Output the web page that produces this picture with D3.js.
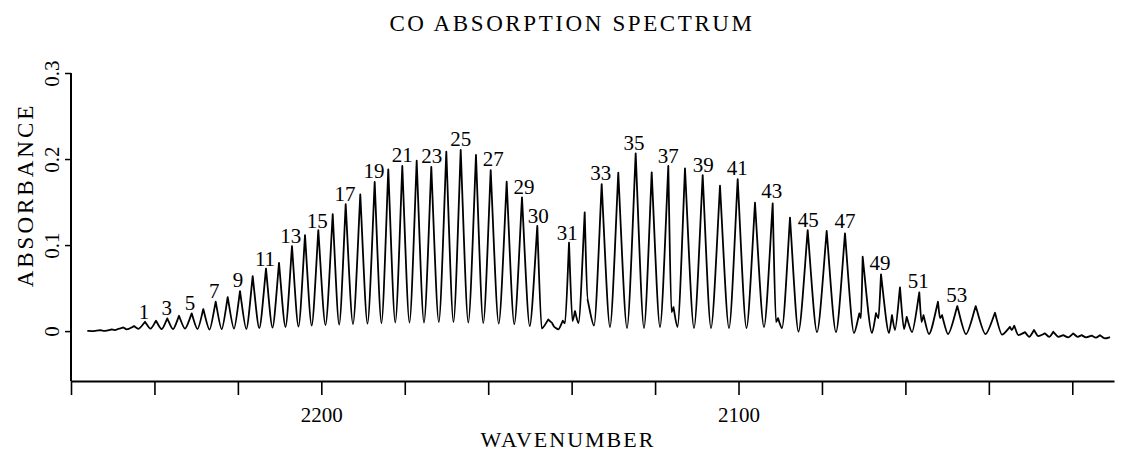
<!DOCTYPE html>
<html>
<head>
<meta charset="utf-8">
<script src="https://cdn.jsdelivr.net/npm/d3@7"></script>
<style>
  html, body { margin: 0; padding: 0; background: #fff; }
  svg { display: block; }
  text { font-family: "Liberation Serif", "Times New Roman", serif; fill: #000; }
</style>
</head>
<body>
<svg id="chart" width="1126" height="457"></svg>
<script>
// ---------------- data (wavenumber cm^-1, absorbance) ----------------
const chartTitle = "CO ABSORPTION SPECTRUM";
const xTitle = "WAVENUMBER";
const yTitle = "ABSORBANCE";

const xTicks = [2260, 2240, 2220, 2200, 2180, 2160, 2140, 2120, 2100, 2080, 2060, 2040, 2020];
const xTickLabels = { 2200: "2200", 2100: "2100" };
const yTicks = [0, 0.1, 0.2, 0.3];
const yTickLabels = ["0", "0.1", "0.2", "0.3"];

const baselineHigh = [
  [2256.09, 0.0003], [2254.65, 0.0000], [2253.05, 0.0012], [2251.85, 0.0003],
  [2250.24, 0.0020], [2249.45, 0.0012], [2248.66, 0.0027], [2247.46, 0.0043],
  [2246.65, 0.0020], [2244.90, 0.0058], [2243.82, 0.0027]
];

const rBranch = [
  [2242.26, 0.0108], [2240.94, 0.0029], [2239.63, 0.0120], [2238.26, 0.0023],
  [2236.92, 0.0148], [2235.55, 0.0023], [2234.11, 0.0178], [2232.68, 0.0029],
  [2231.07, 0.0206], [2229.68, 0.0023], [2228.29, 0.0256], [2226.80, 0.0017],
  [2225.32, 0.0343], [2223.88, 0.0023], [2222.44, 0.0395], [2220.93, 0.0029],
  [2219.49, 0.0465], [2217.98, 0.0023], [2216.45, 0.0640], [2214.87, 0.0035],
  [2213.26, 0.0727], [2211.70, 0.0041], [2210.14, 0.0794], [2208.59, 0.0047],
  [2207.03, 0.0988], [2205.47, 0.0052], [2203.91, 0.1116], [2202.31, 0.0064],
  [2200.72, 0.1174], [2199.00, 0.0070], [2197.27, 0.1360], [2195.72, 0.0076],
  [2194.16, 0.1477], [2192.41, 0.0081], [2190.66, 0.1590], [2188.93, 0.0087],
  [2187.21, 0.1733], [2185.58, 0.0093], [2183.95, 0.1880], [2182.27, 0.0099],
  [2180.59, 0.1919], [2178.87, 0.0099], [2177.14, 0.1980], [2175.39, 0.0099],
  [2173.64, 0.1910], [2171.84, 0.0105], [2170.04, 0.2085], [2168.32, 0.0105],
  [2166.59, 0.2105], [2164.77, 0.0099], [2162.93, 0.2047], [2161.18, 0.0093],
  [2159.40, 0.1872], [2157.48, 0.0087], [2155.57, 0.1736], [2153.75, 0.0081],
  [2151.90, 0.1555], [2150.05, 0.0058], [2148.23, 0.1224]
];

const bandCentre = [
  [2147.18, 0.0031], [2145.60, 0.0136], [2144.78, 0.0101], [2143.99, 0.0043],
  [2143.20, 0.0020], [2142.14, 0.0120], [2141.59, 0.0090]
];

const pBranch = [
  [2140.63, 0.1027], [2139.80, 0.0116], [2139.20, 0.0233], [2138.36, 0.0093],
  [2136.87, 0.1380], [2136.20, 0.0372], [2134.64, 0.0064], [2132.80, 0.1709],
  [2130.81, 0.0047], [2128.82, 0.1841], [2126.73, 0.0035], [2124.65, 0.2066],
  [2122.66, 0.0035], [2120.81, 0.1845], [2118.82, 0.0047], [2116.83, 0.1919],
  [2116.07, 0.0221], [2115.59, 0.0279], [2114.63, 0.0047], [2112.83, 0.1892],
  [2110.67, 0.0035], [2108.59, 0.1814], [2106.60, 0.0035], [2104.44, 0.1690],
  [2102.28, 0.0035], [2100.20, 0.1767], [2098.09, 0.0035], [2096.05, 0.1492],
  [2093.89, 0.0047], [2091.81, 0.1485], [2091.02, 0.0105], [2090.54, 0.0151],
  [2089.58, 0.0035], [2087.66, 0.1320], [2085.63, -0.0006], [2083.42, 0.1174],
  [2081.19, -0.0012], [2078.87, 0.1166], [2076.64, -0.0012], [2074.48, 0.1136],
  [2072.32, -0.0023], [2071.05, 0.0206], [2070.65, 0.0151], [2070.24, 0.0864],
  [2068.01, -0.0023], [2067.05, 0.0209], [2066.45, 0.0151], [2065.85, 0.0659],
  [2063.93, -0.0023], [2063.22, 0.0186], [2062.50, 0.0012], [2061.30, 0.0508],
  [2060.34, 0.0023], [2059.69, 0.0166], [2058.42, -0.0012], [2056.67, 0.0450],
  [2056.14, 0.0105], [2055.66, 0.0186], [2054.35, -0.0035], [2052.19, 0.0341],
  [2051.71, 0.0151], [2051.23, 0.0186], [2049.79, -0.0035], [2047.56, 0.0291],
  [2045.48, -0.0035], [2043.15, 0.0291], [2040.80, -0.0035], [2038.53, 0.0213],
  [2036.85, -0.0041]
];

const baselineLow = [
  [2034.93, 0.0050], [2034.52, 0.0012], [2033.90, 0.0062], [2032.94, -0.0047],
  [2031.34, -0.0012], [2030.31, -0.0066], [2029.18, 0.0012], [2028.15, -0.0058],
  [2026.54, -0.0027], [2025.51, -0.0066], [2024.55, -0.0008], [2023.35, -0.0066],
  [2022.16, -0.0047], [2020.96, -0.0073], [2019.76, -0.0027], [2018.70, -0.0066],
  [2017.75, -0.0047], [2016.71, -0.0073], [2015.35, -0.0052], [2014.32, -0.0076],
  [2013.36, -0.0047], [2012.16, -0.0085], [2010.96, -0.0070]
];

const peakLabels = ["1","3","5","7","9","11","13","15","17","19","21","23","25","27","29","30",
                    "31","33","35","37","39","41","43","45","47","49","51","53"];
const labelWn  = [2242.50, 2237.06, 2231.48, 2225.65, 2219.97, 2213.50, 2207.34, 2200.96,
                  2194.33, 2187.37, 2180.59, 2173.54, 2166.59, 2158.78, 2151.42, 2147.99,
                  2141.04, 2133.04, 2125.06, 2116.83, 2108.44, 2100.29, 2092.05, 2083.28,
                  2074.48, 2066.09, 2056.91, 2047.71];
const labelAbs = [0.0140, 0.0186, 0.0244, 0.0390, 0.0512, 0.0762, 0.1020, 0.1194,
                  0.1515, 0.1776, 0.1969, 0.1950, 0.2151, 0.1919, 0.1593, 0.1252,
                  0.1058, 0.1756, 0.2105, 0.1957, 0.1852, 0.1814, 0.1543, 0.1213,
                  0.1194, 0.0709, 0.0497, 0.0341];

// ---------------- layout ----------------
const svg = d3.select("#chart");
const x = d3.scaleLinear().domain([2260, 2010]).range([71, 1114]);
const y = d3.scaleLinear().domain([-0.058, 0.3]).range([381, 73]);

svg.append("rect").attr("width", 1126).attr("height", 457).attr("fill", "#fff");

// custom curve: rounded troughs, sharp spectral peaks
function CuspCurve(context) { this._context = context; }
CuspCurve.prototype = {
  areaStart() { this._line = 0; },
  areaEnd() { this._line = NaN; },
  lineStart() { this._pts = []; },
  lineEnd() {
    const p = this._pts, c = this._context;
    if (!p.length) return;
    c.moveTo(p[0][0], p[0][1]);
    for (let i = 1; i < p.length; i++) {
      const a = p[i - 1], b = p[i];
      const dx = b[0] - a[0], dy = b[1] - a[1];
      if (dy < 0) {
        c.bezierCurveTo(a[0] + 0.25 * dx, a[1], b[0] - 0.35 * dx, b[1] - 0.4 * dy, b[0], b[1]);
      } else {
        c.bezierCurveTo(a[0] + 0.35 * dx, a[1] + 0.4 * dy, b[0] - 0.25 * dx, b[1], b[0], b[1]);
      }
    }
  },
  point(px, py) { this._pts.push([+px, +py]); }
};
const cusp = ctx => new CuspCurve(ctx);

const spectrum = [].concat(baselineHigh, rBranch, bandCentre, pBranch, baselineLow);
const line = d3.line().x(d => x(d[0])).y(d => y(d[1])).curve(cusp);

svg.append("path")
  .datum(spectrum)
  .attr("d", line)
  .attr("fill", "none")
  .attr("stroke", "#000")
  .attr("stroke-width", 1.8)
  .attr("stroke-linejoin", "round");

// x axis
const xAxis = d3.axisBottom(x)
  .tickValues(xTicks)
  .tickSize(14)
  .tickSizeOuter(0)
  .tickPadding(12)
  .tickFormat(d => xTickLabels[d] || "");
const gx = svg.append("g").attr("transform", `translate(0,${y(-0.058)})`).call(xAxis);
gx.select(".domain").attr("stroke", "#000").attr("stroke-width", 2);
gx.selectAll(".tick line").attr("stroke", "#000").attr("stroke-width", 1.6);
gx.selectAll(".tick text")
  .attr("font-family", "Liberation Serif, serif")
  .attr("font-size", 21)
  .attr("fill", "#000");

// y axis
const yAxis = d3.axisLeft(y).tickValues(yTicks).tickSize(6).tickSizeOuter(0)
  .tickFormat((d, i) => yTickLabels[i]);
const gy = svg.append("g").attr("transform", `translate(${x(2260)},0)`).call(yAxis);
gy.select(".domain").attr("d", `M0,${y(0.3)}V${y(-0.058)}`).attr("stroke", "#000").attr("stroke-width", 2);
gy.selectAll(".tick line").attr("stroke", "#000").attr("stroke-width", 1.5);
gy.selectAll(".tick text")
  .attr("x", null).attr("dy", null)
  .attr("transform", "translate(-12,0) rotate(-90)")
  .attr("text-anchor", "middle")
  .attr("font-family", "Liberation Serif, serif")
  .attr("font-size", 21)
  .attr("fill", "#000");

// peak labels
svg.append("g").selectAll("text")
  .data(peakLabels)
  .join("text")
  .attr("x", (d, i) => x(labelWn[i]))
  .attr("y", (d, i) => y(labelAbs[i]))
  .attr("text-anchor", "middle")
  .attr("font-size", 21)
  .text(d => d);

// titles
svg.append("text")
  .attr("x", 572).attr("y", 31)
  .attr("text-anchor", "middle")
  .attr("font-size", 23)
  .attr("letter-spacing", 2.6)
  .text(chartTitle);

svg.append("text")
  .attr("x", 568).attr("y", 447)
  .attr("text-anchor", "middle")
  .attr("font-size", 22)
  .attr("letter-spacing", 2)
  .text(xTitle);

svg.append("text")
  .attr("transform", "translate(33,195) rotate(-90)")
  .attr("text-anchor", "middle")
  .attr("font-size", 23)
  .attr("letter-spacing", 3)
  .text(yTitle);
</script>
</body>
</html>
